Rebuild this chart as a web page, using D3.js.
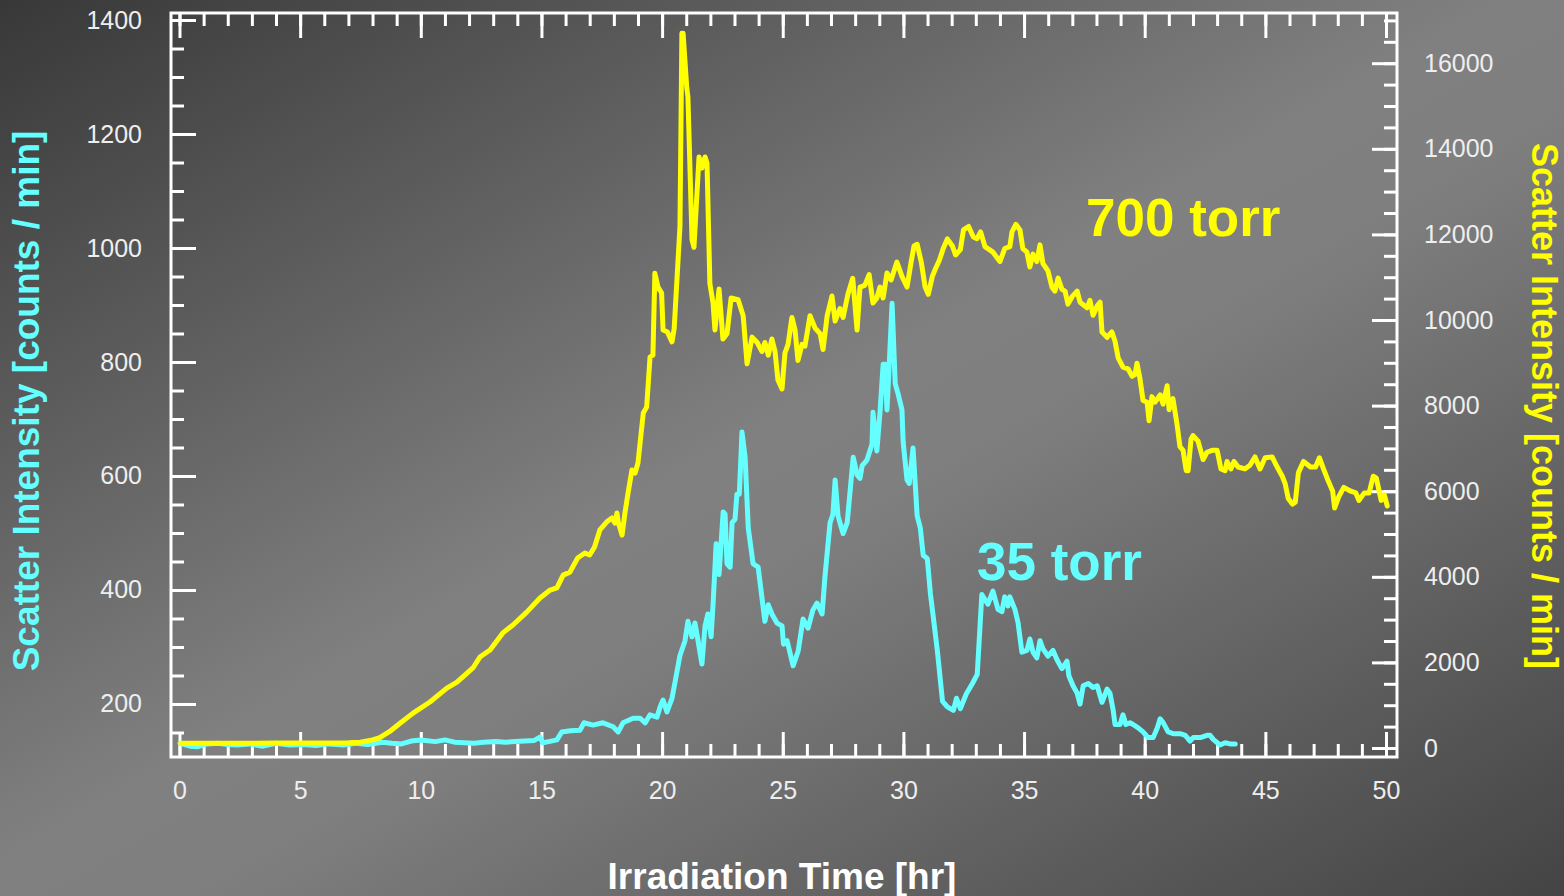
<!DOCTYPE html>
<html>
<head>
<meta charset="utf-8">
<script src="https://cdn.jsdelivr.net/npm/d3@7"></script>
<style>
  html, body { margin: 0; padding: 0; overflow: hidden; background: #666; }
  svg { display: block; }
</style>
</head>
<body>
<svg id="chart" width="1564" height="896"></svg>
<script>
// ---- axis extents and tick values ----
const hourDomain = [-0.352, 50.455];
const leftDomain = [107, 1412.3];      // 35 torr, counts / min
const rightDomain = [-210, 17173];     // 700 torr, counts / min

const hourTicks = d3.range(0, 51, 5);
const hourMinorTicks = d3.range(0, 51, 1);
const leftTicks = [200, 400, 600, 800, 1000, 1200, 1400];
const leftMinorTicks = d3.range(150, 1401, 50);
const rightTicks = [0, 2000, 4000, 6000, 8000, 10000, 12000, 14000, 16000];
const rightMinorTicks = d3.range(0, 17001, 500);

// ---- 700 torr scatter intensity: [hour, counts/min] ----
const series700 = [
  [0.05,110],[0.9,110],[2,112],[3,113],[4,115],[5,117],[6,118],[7,122],[7.5,135],[8.0,190],
  [8.3,240],[8.7,380],[9.14,580],[9.68,815],[10.38,1075],[11.08,1400],[11.5,1540],[12.16,1870],[12.45,2125],[12.87,2290],
  [13.4,2690],[13.82,2875],[14.4,3180],[14.94,3505],[15.36,3690],[15.64,3740],[15.9,4040],[16.18,4110],[16.5,4440],[16.8,4555],
  [17.0,4510],[17.2,4695],[17.42,5095],[17.7,5280],[17.92,5375],[18.05,5255],[18.13,5490],[18.18,5280],[18.34,4975],[18.46,5490],
  [18.59,5960],[18.75,6495],[18.88,6425],[19.0,6660],[19.22,7825],[19.36,7965],[19.5,9135],[19.62,9180],[19.7,11090],[19.83,10770],
  [19.98,10630],[20.04,9765],[20.22,9720],[20.41,9490],[20.5,9800],[20.74,12180],[20.82,16700],[20.87,16700],[21.02,15440],[21.07,15210],
  [21.24,11870],[21.32,11700],[21.53,13810],[21.65,13550],[21.78,13810],[21.86,13670],[21.98,10850],[22.11,10400],[22.19,9765],[22.36,10725],
  [22.52,9555],[22.69,9680],[22.86,10515],[23.15,10475],[23.36,10100],[23.52,8975],[23.73,9600],[23.94,9475],[24.14,9265],[24.26,9475],
  [24.4,9180],[24.55,9555],[24.68,9265],[24.8,8600],[24.97,8390],[25.09,9225],[25.22,9430],[25.38,10060],[25.51,9765],[25.63,9055],
  [25.8,9430],[25.92,9390],[26.13,10100],[26.34,9810],[26.55,9680],[26.67,9310],[26.84,10100],[27.04,10560],[27.17,9975],[27.37,10265],
  [27.5,10060],[27.7,10600],[27.9,10975],[28.08,9765],[28.2,10770],[28.4,10810],[28.58,11060],[28.74,10395],[28.9,10515],[29.03,10770],
  [29.16,10515],[29.32,11100],[29.49,10935],[29.73,11355],[29.94,11020],[30.15,10770],[30.32,11355],[30.44,11730],[30.57,11770],[30.74,11355],
  [30.9,10770],[31.03,10600],[31.2,11020],[31.32,11185],[31.49,11395],[31.66,11685],[31.82,11895],[32.03,11730],[32.16,11520],[32.36,11645],
  [32.49,12105],[32.7,12185],[32.9,11940],[33.05,11900],[33.2,12060],[33.38,11715],[33.71,11585],[34.0,11365],[34.2,11670],[34.41,11715],
  [34.5,12060],[34.66,12235],[34.83,12105],[34.95,11670],[35.12,11585],[35.24,11240],[35.37,11540],[35.53,11365],[35.66,11755],[35.78,11325],
  [35.99,11150],[36.16,10760],[36.28,10675],[36.41,10980],[36.57,10715],[36.7,10675],[36.82,10370],[36.99,10545],[37.2,10675],[37.32,10415],
  [37.61,10285],[37.73,10460],[37.86,10110],[38.03,10330],[38.15,10415],[38.23,9720],[38.44,9595],[38.64,9720],[38.77,9505],[38.9,9115],
  [39.1,8900],[39.31,8860],[39.48,8685],[39.6,8730],[39.68,8990],[39.8,8640],[39.93,8120],[40.1,8080],[40.18,7645],[40.3,8210],
  [40.43,8080],[40.64,8250],[40.76,8035],[40.93,8465],[41.01,7905],[41.17,8165],[41.34,7560],[41.46,7040],[41.59,6955],[41.72,6480],
  [41.8,6480],[41.92,7215],[42.0,7300],[42.21,7170],[42.42,6740],[42.58,6910],[42.79,6955],[43.0,6955],[43.16,6520],[43.33,6480],
  [43.41,6695],[43.57,6520],[43.7,6695],[43.87,6565],[44.15,6520],[44.36,6605],[44.57,6800],[44.78,6520],[44.99,6780],[45.28,6800],
  [45.49,6565],[45.7,6350],[45.82,6175],[45.95,5830],[46.12,5700],[46.24,5745],[46.37,6435],[46.58,6695],[46.87,6565],[47.08,6565],
  [47.24,6780],[47.41,6520],[47.62,6220],[47.79,6000],[47.87,5610],[48.04,5870],[48.25,6090],[48.54,6000],[48.75,5960],[48.88,5785],
  [49.1,5960],[49.3,5960],[49.47,6350],[49.6,6305],[49.8,5785],[49.93,5915],[50.05,5655]
];

// ---- 35 torr scatter intensity: [hour, counts/min] ----
const series35 = [
  [0.02,131],[0.44,126],[0.73,125],[1.14,130],[1.6,131],[2.0,129],[2.38,128],[2.9,130],[3.46,126],[4.0,131],
  [4.57,128],[5.1,129],[5.67,127],[6.2,130],[6.8,128],[7.3,131],[7.8,129],[8.4,133],[8.8,131],[9.2,130],
  [9.6,135],[10.0,137],[10.6,134],[11.0,137],[11.4,133],[11.8,132],[12.2,131],[12.6,133],[13.1,134],[13.5,133],
  [13.9,134],[14.3,135],[14.7,136],[14.94,142],[15.05,132],[15.3,134],[15.64,137],[15.84,151],[16.2,153],[16.6,154],
  [16.76,167],[17.14,163],[17.55,167],[17.97,160],[18.18,151],[18.38,167],[18.8,175],[19.09,175],[19.3,167],[19.5,181],
  [19.79,177],[19.92,195],[20.04,207],[20.2,186],[20.41,210],[20.53,237],[20.74,285],[20.95,311],[21.07,345],[21.24,318],
  [21.36,342],[21.49,311],[21.65,270],[21.78,337],[21.9,358],[22.03,318],[22.11,374],[22.24,481],[22.36,427],[22.53,537],
  [22.61,533],[22.69,446],[22.82,440],[22.9,518],[23.02,524],[23.1,568],[23.2,568],[23.31,677],[23.44,633],[23.57,509],
  [23.77,446],[23.98,440],[24.26,345],[24.4,374],[24.55,358],[24.76,342],[24.97,337],[25.03,305],[25.18,311],[25.43,267],
  [25.64,293],[25.84,349],[26.05,333],[26.25,365],[26.42,377],[26.63,358],[26.75,424],[26.96,518],[27.08,533],[27.17,593],
  [27.29,530],[27.5,499],[27.67,518],[27.92,633],[28.08,602],[28.2,596],[28.29,618],[28.49,628],[28.7,656],[28.74,712],
  [28.9,644],[29.03,712],[29.16,796],[29.24,796],[29.32,716],[29.41,793],[29.53,903],[29.66,762],[29.78,744],[29.94,716],
  [29.99,659],[30.15,593],[30.24,587],[30.4,649],[30.57,530],[30.7,509],[30.82,461],[30.99,455],[31.12,393],[31.24,352],
  [31.41,292],[31.62,205],[31.82,195],[32.07,189],[32.2,210],[32.36,192],[32.61,218],[32.86,236],[33.06,252],[33.25,392],
  [33.5,375],[33.71,398],[33.92,366],[34.08,362],[34.2,388],[34.33,372],[34.41,388],[34.62,366],[34.75,343],[34.91,291],
  [35.12,294],[35.24,314],[35.37,291],[35.53,281],[35.66,311],[35.78,297],[35.99,284],[36.2,294],[36.36,278],[36.57,262],
  [36.78,275],[36.86,249],[37.03,232],[37.2,219],[37.32,200],[37.45,232],[37.66,236],[37.86,229],[38.03,232],[38.23,203],
  [38.44,226],[38.56,219],[38.69,190],[38.77,164],[38.98,164],[39.1,181],[39.22,164],[39.39,167],[39.52,164],[39.73,158],
  [39.93,151],[40.14,141],[40.35,141],[40.52,158],[40.64,174],[40.77,167],[40.97,151],[41.18,148],[41.47,148],[41.68,145],
  [41.88,135],[42.01,141],[42.3,141],[42.58,145],[42.71,145],[42.84,138],[43.12,128],[43.33,132],[43.54,130],[43.75,130]
];

// ---- layout ----
const W = 1564, H = 896;
const plot = { left: 171, right: 1397, top: 13, bottom: 757 };
const MAJOR = 25, MINOR = 13;
const CYAN = "#66ffff", YELLOW = "#ffff00", INK = "#ffffff", LABEL = "#eeeeee";
const FONT = "'Liberation Sans', Arial, Helvetica, sans-serif";

const svg = d3.select("#chart");

// diagonal background shading
const defs = svg.append("defs");
const grad = defs.append("linearGradient").attr("id", "bg")
  .attr("x1", 0).attr("y1", 0).attr("x2", 1).attr("y2", 1);
[[0, "#383838"], [0.48, "#808080"], [0.56, "#7f7f7f"], [1, "#444444"]]
  .forEach(([o, c]) => grad.append("stop").attr("offset", o).attr("stop-color", c));
svg.append("rect").attr("width", W).attr("height", H).attr("fill", "url(#bg)");

const x = d3.scaleLinear().domain(hourDomain).range([plot.left, plot.right]);
const yL = d3.scaleLinear().domain(leftDomain).range([plot.bottom, plot.top]);
const yR = d3.scaleLinear().domain(rightDomain).range([plot.bottom, plot.top]);

function styleAxis(g, withLabels) {
  g.attr("color", INK).attr("font-family", FONT).attr("font-size", 25);
  g.select(".domain").remove();
  g.selectAll(".tick line").attr("stroke-width", 3);
  if (withLabels) g.selectAll(".tick text").attr("fill", LABEL);
  else g.selectAll(".tick text").remove();
}

// left axis (35 torr)
svg.append("g").attr("transform", `translate(${plot.left},0)`)
  .call(d3.axisLeft(yL).tickValues(leftMinorTicks).tickSize(-MINOR).tickSizeOuter(0))
  .call(g => styleAxis(g, false));
svg.append("g").attr("transform", `translate(${plot.left},0)`)
  .call(d3.axisLeft(yL).tickValues(leftTicks).tickSize(-MAJOR).tickSizeOuter(0)
    .tickPadding(29).tickFormat(d3.format("d")))
  .call(g => styleAxis(g, true));

// right axis (700 torr)
svg.append("g").attr("transform", `translate(${plot.right},0)`)
  .call(d3.axisRight(yR).tickValues(rightMinorTicks).tickSize(-MINOR).tickSizeOuter(0))
  .call(g => styleAxis(g, false));
svg.append("g").attr("transform", `translate(${plot.right},0)`)
  .call(d3.axisRight(yR).tickValues(rightTicks).tickSize(-MAJOR).tickSizeOuter(0)
    .tickPadding(27).tickFormat(d3.format("d")))
  .call(g => styleAxis(g, true));

// bottom axis
svg.append("g").attr("transform", `translate(0,${plot.bottom})`)
  .call(d3.axisBottom(x).tickValues(hourMinorTicks).tickSize(-MINOR).tickSizeOuter(0))
  .call(g => styleAxis(g, false));
svg.append("g").attr("transform", `translate(0,${plot.bottom})`)
  .call(d3.axisBottom(x).tickValues(hourTicks).tickSize(-MAJOR).tickSizeOuter(0)
    .tickPadding(24).tickFormat(d3.format("d")))
  .call(g => styleAxis(g, true));

// top axis (ticks only)
svg.append("g").attr("transform", `translate(0,${plot.top})`)
  .call(d3.axisTop(x).tickValues(hourMinorTicks).tickSize(-MINOR).tickSizeOuter(0))
  .call(g => styleAxis(g, false));
svg.append("g").attr("transform", `translate(0,${plot.top})`)
  .call(d3.axisTop(x).tickValues(hourTicks).tickSize(-MAJOR).tickSizeOuter(0))
  .call(g => styleAxis(g, false));

// frame
svg.append("rect")
  .attr("x", plot.left).attr("y", plot.top)
  .attr("width", plot.right - plot.left).attr("height", plot.bottom - plot.top)
  .attr("fill", "none").attr("stroke", INK).attr("stroke-width", 3);

// data lines
const line35 = d3.line().x(d => x(d[0])).y(d => yL(d[1]));
const line700 = d3.line().x(d => x(d[0])).y(d => yR(d[1]));

svg.append("path").datum(series35).attr("d", line35)
  .attr("fill", "none").attr("stroke", CYAN).attr("stroke-width", 5)
  .attr("stroke-linejoin", "round").attr("stroke-linecap", "round");
svg.append("path").datum(series700).attr("d", line700)
  .attr("fill", "none").attr("stroke", YELLOW).attr("stroke-width", 5)
  .attr("stroke-linejoin", "round").attr("stroke-linecap", "round");

// series annotations
svg.append("text").attr("x", 1086).attr("y", 236)
  .attr("font-family", FONT).attr("font-weight", "bold").attr("font-size", 53)
  .attr("fill", YELLOW).text("700 torr");
svg.append("text").attr("x", 977).attr("y", 580)
  .attr("font-family", FONT).attr("font-weight", "bold").attr("font-size", 53)
  .attr("fill", CYAN).text("35 torr");

// axis titles
svg.append("text")
  .attr("transform", "translate(39,401) rotate(-90)")
  .attr("text-anchor", "middle")
  .attr("font-family", FONT).attr("font-weight", "bold").attr("font-size", 37)
  .attr("fill", CYAN).text("Scatter Intensity [counts / min]");
svg.append("text")
  .attr("transform", "translate(1532,406) rotate(90)")
  .attr("text-anchor", "middle")
  .attr("font-family", FONT).attr("font-weight", "bold").attr("font-size", 36)
  .attr("fill", YELLOW).text("Scatter Intensity [counts / min]");
svg.append("text")
  .attr("x", 782).attr("y", 889)
  .attr("text-anchor", "middle")
  .attr("font-family", FONT).attr("font-weight", "bold").attr("font-size", 37)
  .attr("fill", INK).text("Irradiation Time [hr]");
</script>
</body>
</html>
